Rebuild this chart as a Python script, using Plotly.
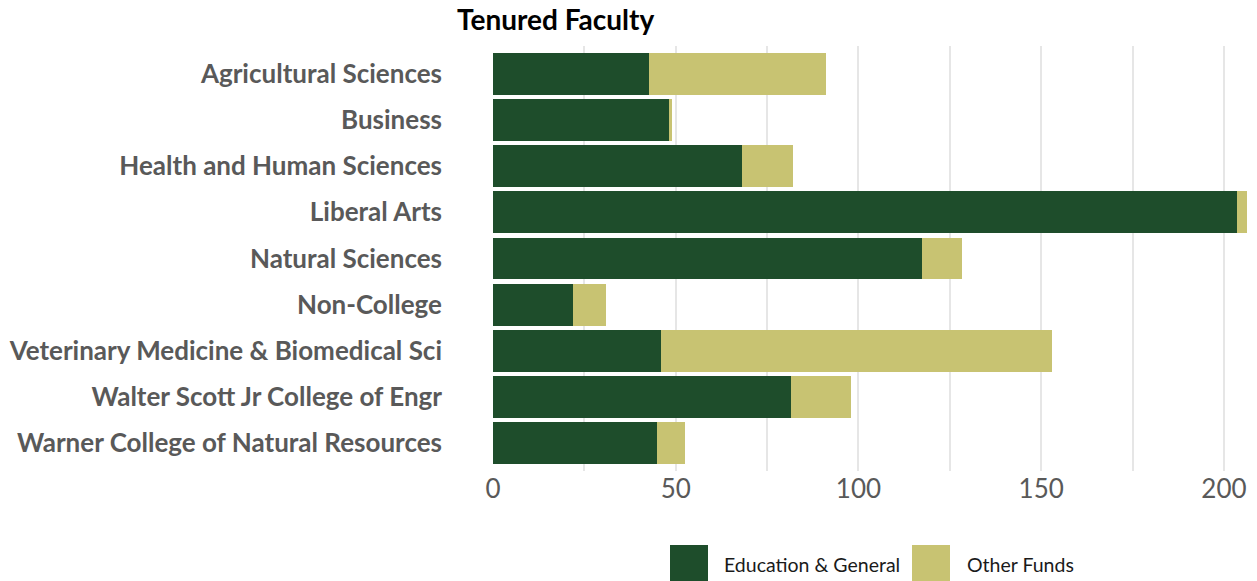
import plotly.graph_objects as go

# Colleges, listed top to bottom
colleges = [
    "Agricultural Sciences",
    "Business",
    "Health and Human Sciences",
    "Liberal Arts",
    "Natural Sciences",
    "Non-College",
    "Veterinary Medicine & Biomedical Sci",
    "Walter Scott Jr College of Engr",
    "Warner College of Natural Resources",
]

# Tenured faculty counts by funding source
education_general = [42.6, 48.4, 68.0, 203.5, 117.3, 22.0, 46.1, 81.4, 44.8]
other_funds = [48.4, 0.5, 14.2, 2.8, 11.0, 9.0, 106.8, 16.5, 7.6]

series_names = ["Education & General", "Other Funds"]
x_ticks = [0, 50, 100, 150, 200]

GREEN = "#1E4D2B"
GOLD = "#C8C372"
LABEL_GRAY = "#595959"
FONT = "Lato, 'Open Sans', sans-serif"

W, H = 1257, 581
L, R, T, B = 493, 10, 46, 110
plot_w = W - L - R
plot_h = H - T - B

fig = go.Figure()
fig.add_trace(go.Bar(
    y=colleges, x=education_general, orientation="h",
    name=series_names[0], marker=dict(color=GREEN, line=dict(width=0)),
))
fig.add_trace(go.Bar(
    y=colleges, x=other_funds, orientation="h",
    name=series_names[1], marker=dict(color=GOLD, line=dict(width=0)),
))

x_max = max(a + b for a, b in zip(education_general, other_funds))

fig.update_layout(
    width=W, height=H,
    margin=dict(l=L, r=R, t=T, b=B),
    barmode="stack",
    bargap=0.09,
    plot_bgcolor="white",
    paper_bgcolor="white",
    showlegend=False,
    font=dict(family=FONT),
)

fig.update_xaxes(
    range=[0, x_max],
    tickvals=x_ticks,
    ticktext=[str(v) for v in x_ticks],
    showgrid=True, gridcolor="#E6E6E6", gridwidth=2,
    minor=dict(dtick=25, tick0=0, showgrid=True, gridcolor="#E6E6E6", gridwidth=2),
    zeroline=False, showline=False, ticks="",
    tickfont=dict(size=26, color=LABEL_GRAY, family=FONT),
    fixedrange=True,
)
fig.update_yaxes(
    categoryorder="array",
    categoryarray=colleges[::-1],
    range=[-0.607, 8.607],
    showgrid=False, zeroline=False, showline=False, ticks="",
    ticklabelstandoff=50,
    tickfont=dict(size=26, color=LABEL_GRAY, family=FONT, weight="bold"),
    fixedrange=True,
)

# Title
fig.add_annotation(
    text="<b>Tenured Faculty</b>",
    xref="paper", yref="paper",
    x=(455 - L) / plot_w, y=1 + (T - 19) / plot_h,
    xanchor="left", yanchor="middle",
    showarrow=False,
    font=dict(size=28, color="black", family=FONT),
)

# Legend: swatches and labels below the axis
def px_x(p):
    return (p - L) / plot_w

def px_y(p):
    return (H - B - p) / plot_h

legend_items = [
    (series_names[0], GREEN, 670, 722),
    (series_names[1], GOLD, 912, 965),
]
for name, color, sx, tx in legend_items:
    fig.add_shape(
        type="rect", xref="paper", yref="paper",
        x0=px_x(sx), x1=px_x(sx + 38),
        y0=px_y(581), y1=px_y(545),
        fillcolor=color, line=dict(width=0),
    )
    fig.add_annotation(
        text=name, xref="paper", yref="paper",
        x=px_x(tx), y=px_y(564),
        xanchor="left", yanchor="middle", showarrow=False,
        font=dict(size=19.5, color="#1a1a1a", family=FONT),
    )

fig.write_html("out.html")
